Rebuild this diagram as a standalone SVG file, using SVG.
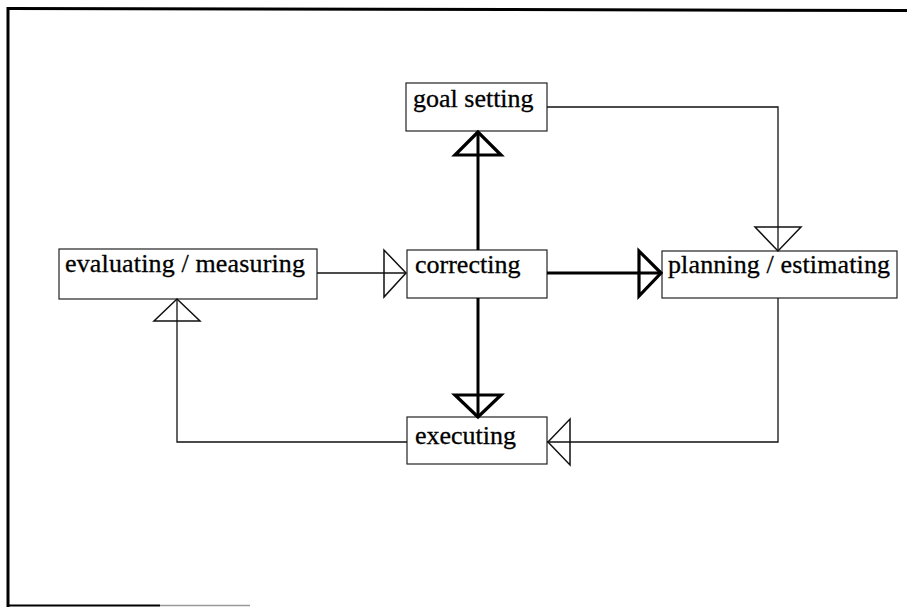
<svg xmlns="http://www.w3.org/2000/svg" width="907" height="607" viewBox="0 0 907 607">
<style>
.box{fill:#fff;stroke:#222;stroke-width:1.2}
.lbl{font-family:"Liberation Serif","Times New Roman",serif;font-size:26px;fill:#000;stroke:#000;stroke-width:0.3}
.thin{fill:none;stroke:#111;stroke-width:1.3}
.thick{fill:none;stroke:#000;stroke-width:3}
.thinhead{fill:none;stroke:#111;stroke-width:1.5;stroke-linejoin:miter}
.thickhead{fill:none;stroke:#000;stroke-width:3.2;stroke-linejoin:miter}
</style>
<rect width="907" height="607" fill="#fff"/>
<g id="frame">
<line x1="8" y1="8.5" x2="907" y2="10.5" stroke="#000" stroke-width="3"/>
<line x1="8" y1="7" x2="8" y2="607" stroke="#000" stroke-width="3"/>
<line x1="7" y1="605.5" x2="160" y2="605.5" stroke="#000" stroke-width="2"/>
<line x1="160" y1="605.5" x2="250" y2="605.5" stroke="#999" stroke-width="1.5"/>
</g>
<g id="goal-setting">
<rect class="box" x="406" y="83" width="141" height="48"/>
<text class="lbl" x="413" y="107">goal setting</text>
</g>
<g id="evaluating-measuring">
<rect class="box" x="59" y="249" width="258" height="50"/>
<text class="lbl" x="65" y="272" textLength="240" lengthAdjust="spacing">evaluating / measuring</text>
</g>
<g id="correcting">
<rect class="box" x="407" y="250" width="140" height="48"/>
<text class="lbl" x="415" y="273">correcting</text>
</g>
<g id="planning-estimating">
<rect class="box" x="662" y="251" width="235" height="47"/>
<text class="lbl" x="668" y="273" textLength="222" lengthAdjust="spacing">planning / estimating</text>
</g>
<g id="executing">
<rect class="box" x="407" y="417" width="140" height="47"/>
<text class="lbl" x="415" y="444">executing</text>
</g>
<g id="connectors">
<line class="thick" x1="478" y1="250" x2="478" y2="132"/>
<polygon class="thickhead" points="478,132 455,155 501,155"/>
<line class="thick" x1="547" y1="273" x2="661" y2="273"/>
<polygon class="thickhead" points="661,273 639,251 639,296"/>
<line class="thick" x1="478" y1="298" x2="478" y2="417"/>
<polygon class="thickhead" points="478,417 455,395 501,395"/>
<polyline class="thin" points="547,107 778,107 778,251"/>
<polygon class="thinhead" points="778,251 755,227 801,227"/>
<line class="thin" x1="317" y1="273" x2="406" y2="273"/>
<polygon class="thinhead" points="406,273 384,250 384,297"/>
<polyline class="thin" points="778,298 778,442 547,442"/>
<polygon class="thinhead" points="548,442 570,419 570,465"/>
<polyline class="thin" points="407,442 177,442 177,299"/>
<polygon class="thinhead" points="177,299 154,321 200,321"/>
</g>
</svg>
